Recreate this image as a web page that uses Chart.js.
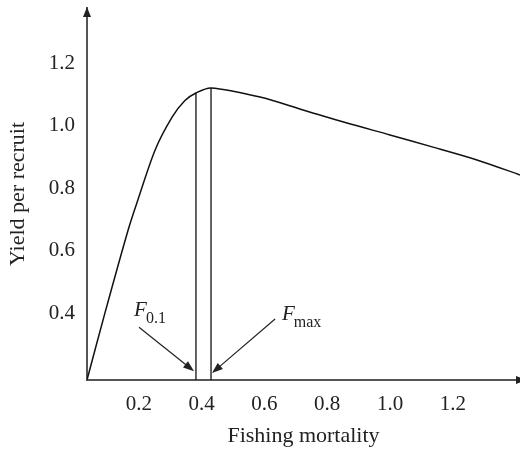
<!DOCTYPE html>
<html>
<head>
<meta charset="utf-8">
<script src="https://cdn.jsdelivr.net/npm/chart.js@4.4.1/dist/chart.umd.min.js"></script>
<style>
  html, body { margin: 0; padding: 0; background: #fff; }
  #wrap { width: 520px; height: 452px; }
</style>
</head>
<body>
<div id="wrap"><canvas id="yprChart" width="520" height="452"></canvas></div>
<script>
// Yield-per-recruit curve
const mortality = [0.035, 0.092, 0.166, 0.197, 0.252, 0.306, 0.347, 0.382, 0.43, 0.586, 0.723, 0.863, 1.0, 1.137, 1.277, 1.414];
const yieldPerRecruit = [0.186, 0.40, 0.666, 0.762, 0.922, 1.027, 1.080, 1.104, 1.12, 1.091, 1.05, 1.008, 0.97, 0.931, 0.89, 0.842];

// Reference points: F0.1 and Fmax
const refNames = ['0.1', 'max'];
const refMortality = [0.382, 0.43];
const refYield = [1.104, 1.12];

// Tick labels
const xTicks = [0.2, 0.4, 0.6, 0.8, 1.0, 1.2];
const yTicks = [0.4, 0.6, 0.8, 1.0, 1.2];

// Axis ranges (the axes cross a little above zero)
const xMin = 0.035, xMax = 1.414;
const yMin = 0.186, yMax = 1.376;

// Annotation arrows, in data units: [fromX, fromY, toX, toY]
const annoArrows = [
    [0.2006, 0.355, 0.376, 0.214],
    [0.634, 0.381, 0.433, 0.208]
];
// Annotation label anchors (left of the F, baseline)
const annoLabels = [
    [0.185, 0.39],
    [0.656, 0.378]
];

const FONT = "'Liberation Serif', 'DejaVu Serif', serif";
const AXIS_COLOR = '#555';

// Build the datasets
const curvePoints = mortality.map((f, i) => ({ x: f, y: yieldPerRecruit[i] }));
const refDatasets = refMortality.map((f, i) => ({
    data: [{ x: f, y: yMin }, { x: f, y: refYield[i] }],
    borderColor: '#111',
    borderWidth: 1.3,
    pointRadius: 0,
    tension: 0
}));

function drawArrowHead(ctx, x1, y1, x2, y2, len, halfW) {
    const ang = Math.atan2(y2 - y1, x2 - x1);
    ctx.beginPath();
    ctx.moveTo(x2, y2);
    ctx.lineTo(x2 - len * Math.cos(ang) + halfW * Math.sin(ang), y2 - len * Math.sin(ang) - halfW * Math.cos(ang));
    ctx.lineTo(x2 - len * Math.cos(ang) - halfW * Math.sin(ang), y2 - len * Math.sin(ang) + halfW * Math.cos(ang));
    ctx.closePath();
    ctx.fill();
}

// Axis arrowheads and the F labels with their arrows
const annotationPlugin = {
    id: 'yprAnnotations',
    afterDraw(chart) {
        const { ctx, chartArea, scales } = chart;
        const xs = scales.x, ys = scales.y;
        ctx.save();

        // axis arrowheads
        ctx.fillStyle = '#222';
        drawArrowHead(ctx, chartArea.left, chartArea.bottom, chartArea.left, chartArea.top - 1, 10, 4);
        drawArrowHead(ctx, chartArea.left, chartArea.bottom, chartArea.right + 6, chartArea.bottom, 10, 4);

        // annotation arrows
        ctx.strokeStyle = '#222';
        ctx.fillStyle = '#222';
        ctx.lineWidth = 1.2;
        annoArrows.forEach(a => {
            const x1 = xs.getPixelForValue(a[0]), y1 = ys.getPixelForValue(a[1]);
            const x2 = xs.getPixelForValue(a[2]), y2 = ys.getPixelForValue(a[3]);
            const ang = Math.atan2(y2 - y1, x2 - x1);
            ctx.beginPath();
            ctx.moveTo(x1, y1);
            ctx.lineTo(x2 - 8 * Math.cos(ang), y2 - 8 * Math.sin(ang));
            ctx.stroke();
            drawArrowHead(ctx, x1, y1, x2, y2, 11, 4);
        });

        // labels: italic F with subscript
        ctx.fillStyle = '#222';
        ctx.textBaseline = 'alphabetic';
        ctx.textAlign = 'left';
        annoLabels.forEach((p, i) => {
            const x = xs.getPixelForValue(p[0]), y = ys.getPixelForValue(p[1]);
            ctx.font = 'italic 21px ' + FONT;
            ctx.fillText('F', x, y);
            const w = ctx.measureText('F').width;
            ctx.font = '16px ' + FONT;
            ctx.fillText(refNames[i], x + w - 1, y + 7);
        });
        ctx.restore();
    }
};

const ctx = document.getElementById('yprChart').getContext('2d');

const yprChart = new Chart(ctx, {
    type: 'line',
    data: {
        datasets: [
            {
                data: curvePoints,
                borderColor: '#111',
                borderWidth: 1.5,
                pointRadius: 0,
                tension: 0.3
            },
            ...refDatasets
        ]
    },
    options: {
        responsive: false,
        animation: false,
        layout: { padding: { top: 8, right: 0, left: 0, bottom: 0 } },
        plugins: {
            legend: { display: false },
            tooltip: { enabled: false }
        },
        scales: {
            x: {
                type: 'linear',
                min: xMin,
                max: xMax,
                grid: { display: false, drawTicks: false },
                border: { display: true, color: AXIS_COLOR, width: 2 },
                afterBuildTicks: s => { s.ticks = xTicks.map(v => ({ value: v })); },
                afterFit: s => { s.height = 72; s.paddingLeft = 0; s.paddingRight = 0; },
                ticks: {
                    padding: 12,
                    color: '#222',
                    font: { family: FONT, size: 21 },
                    callback: v => v.toFixed(1)
                },
                title: {
                    display: true,
                    text: 'Fishing mortality',
                    color: '#222',
                    font: { family: FONT, size: 22 },
                    padding: { top: 0, bottom: 3 }
                }
            },
            y: {
                type: 'linear',
                min: yMin,
                max: yMax,
                grid: { display: false, drawTicks: false },
                border: { display: true, color: AXIS_COLOR, width: 2 },
                afterBuildTicks: s => { s.ticks = yTicks.map(v => ({ value: v })); },
                afterFit: s => { s.width = 87; s.paddingTop = 0; s.paddingBottom = 0; },
                ticks: {
                    padding: 12,
                    color: '#222',
                    font: { family: FONT, size: 21 },
                    callback: v => v.toFixed(1)
                },
                title: {
                    display: true,
                    text: 'Yield per recruit',
                    color: '#222',
                    font: { family: FONT, size: 22 },
                    padding: { top: 5, bottom: 0 }
                }
            }
        }
    },
    plugins: [annotationPlugin]
});
</script>
</body>
</html>
